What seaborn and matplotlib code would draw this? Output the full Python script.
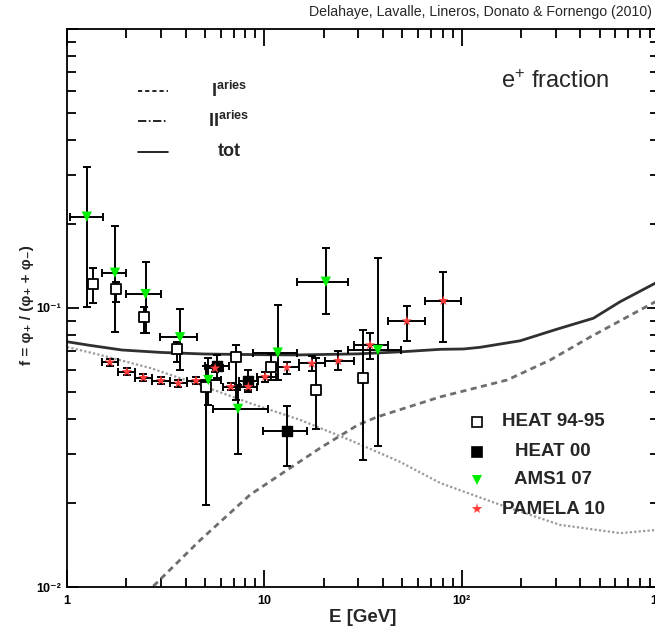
import matplotlib
matplotlib.use("Agg")
import matplotlib.pyplot as plt
from matplotlib.lines import Line2D
import numpy as np
import pandas as pd
import seaborn as sns

# ---------------- data ----------------
# model curves
E_tot = [1, 1.3, 1.9, 3, 5, 10, 15, 30, 50, 78, 102, 124, 198, 303, 465, 635, 955, 1000]
f_tot = [0.0757, 0.0735, 0.0707, 0.0693, 0.0684, 0.068, 0.0679, 0.0685, 0.0697, 0.0711,
         0.0713, 0.0723, 0.0763, 0.0839, 0.0919, 0.1053, 0.1226, 0.1245]
E_I = [2.5, 2.79, 4.72, 8.46, 19.2, 29.8, 37.3, 77.7, 170, 281, 448, 802, 955, 1000]
f_I = [0.0095, 0.0102, 0.0147, 0.0214, 0.0315, 0.0381, 0.0407, 0.048, 0.0552, 0.0651,
       0.0787, 0.0984, 0.1051, 0.107]
E_II = [1, 1.47, 2.63, 4.72, 8.46, 15.2, 27.2, 48.7, 77.7, 157, 315, 635, 955, 1000]
f_II = [0.0725, 0.0679, 0.061, 0.053, 0.0456, 0.0397, 0.0336, 0.0281, 0.0236, 0.0197,
        0.0167, 0.0156, 0.016, 0.0161]

# HEAT 94-95
heat_E = [1.36, 1.77, 2.47, 3.6, 5.06, 7.19, 10.8, 18.2, 31.8]
heat_f = [0.1216, 0.1167, 0.0931, 0.0711, 0.0522, 0.0669, 0.0616, 0.0508, 0.056]
heat_flo = [0.1045, 0.1053, 0.0816, 0.0641, 0.0197, 0.0468, 0.0552, 0.0367, 0.0285]
heat_fhi = [0.1388, 0.1243, 0.1011, 0.0757, 0.062, 0.0737, 0.0684, 0.066, 0.0834]

# HEAT 00
heat00_E = [5.76, 8.3, 13.03]
heat00_f = [0.0619, 0.0549, 0.0362]
heat00_Elo = [5.0, 7.4, 9.85]
heat00_Ehi = [6.6, 9.3, 16.46]
heat00_flo = [0.056, 0.05, 0.0271]
heat00_fhi = [0.068, 0.06, 0.0445]

# AMS1 07
ams_E = [1.26, 1.75, 2.5, 3.74, 5.2, 7.36, 11.7, 20.5, 37.6]
ams_f = [0.2125, 0.1338, 0.1122, 0.0785, 0.0552, 0.0435, 0.0692, 0.1242, 0.0707]
ams_Elo = [1.03, 1.5, 2.0, 2.96, 4.5, 5.5, 8.77, 14.7, 26.7]
ams_Ehi = [1.52, 2.0, 3.0, 4.55, 6.0, 10.4, 14.6, 26.5, 49.1]
ams_flo = [0.101, 0.0822, 0.0816, 0.060, 0.045, 0.030, 0.055, 0.0949, 0.032]
ams_fhi = [0.319, 0.1968, 0.1465, 0.0989, 0.066, 0.053, 0.1025, 0.1636, 0.1507]

# PAMELA 10
pam_E = [1.65, 2.01, 2.44, 2.99, 3.67, 4.51, 5.63, 6.76, 8.30, 10.1, 13.0, 17.4, 23.7,
         34.3, 52.7, 80.8]
pam_f = [0.0639, 0.0591, 0.0563, 0.0549, 0.0537, 0.0549, 0.0608, 0.0522, 0.0522, 0.0567,
         0.0612, 0.0633, 0.0647, 0.0737, 0.0898, 0.1062]
pam_edges = [1.5, 1.82, 2.21, 2.70, 3.31, 4.06, 5.04, 6.18, 7.49, 9.13, 11.5, 15.0, 20.3,
             28.5, 42.4, 65.3, 99.3]
pam_flo = [0.0621, 0.0574, 0.0547, 0.0533, 0.0522, 0.0533, 0.0591, 0.0507, 0.0507, 0.0544,
           0.0582, 0.0597, 0.0598, 0.0655, 0.0763, 0.0753]
pam_fhi = [0.0658, 0.0608, 0.0579, 0.0565, 0.0552, 0.0565, 0.0626, 0.0537, 0.0537, 0.0591,
           0.0643, 0.0671, 0.0700, 0.0811, 0.1017, 0.1343]

xticks = [1, 10, 100, 1000]
xticklabels = ["1", "10", "10²", "10³"]
yticks = [0.01, 0.1, 1]
yticklabels = ["10⁻²", "10⁻¹", ""]

# ---------------- style ----------------
sns.set_style("ticks")
plt.rcParams['font.family'] = ['Liberation Sans', 'DejaVu Sans']
plt.rcParams['mathtext.fontset'] = 'custom'
plt.rcParams['mathtext.rm'] = 'Liberation Sans'
plt.rcParams['mathtext.bf'] = 'Liberation Sans:bold'
plt.rcParams['mathtext.it'] = 'Liberation Sans:italic'

W, H = 655, 633
fig = plt.figure(figsize=(W / 100, H / 100), dpi=100)
fig.patch.set_facecolor('white')
ax = fig.add_axes([67 / W, 1 - 587 / H, 592 / W, 558 / H])
ax.set_xscale('log')
ax.set_yscale('log')

# curves
df_tot = pd.DataFrame({'E': E_tot, 'f': f_tot})
df_I = pd.DataFrame({'E': E_I, 'f': f_I})
df_II = pd.DataFrame({'E': E_II, 'f': f_II})
sns.lineplot(data=df_II, x='E', y='f', ax=ax, color='#9a9a9a', linewidth=1.6,
             linestyle=(0, (1, 1)), estimator=None, sort=False, zorder=2)
sns.lineplot(data=df_I, x='E', y='f', ax=ax, color='#6e6e6e', linewidth=2.0,
             linestyle=(0, (2.2, 1.6)), estimator=None, sort=False, zorder=2)
sns.lineplot(data=df_tot, x='E', y='f', ax=ax, color='#303030', linewidth=2.0,
             estimator=None, sort=False, zorder=2)

eb = dict(fmt='none', ecolor='black', elinewidth=1.4, capsize=3, capthick=1.4, zorder=3)

# HEAT 94-95
hE = np.array(heat_E); hf = np.array(heat_f)
ax.errorbar(hE, hf, yerr=[hf - np.array(heat_flo), np.array(heat_fhi) - hf], **eb)
# HEAT 00
h0E = np.array(heat00_E); h0f = np.array(heat00_f)
ax.errorbar(h0E, h0f, xerr=[h0E - np.array(heat00_Elo), np.array(heat00_Ehi) - h0E],
            yerr=[h0f - np.array(heat00_flo), np.array(heat00_fhi) - h0f], **eb)
# AMS
aE = np.array(ams_E); af = np.array(ams_f)
ax.errorbar(aE, af, xerr=[aE - np.array(ams_Elo), np.array(ams_Ehi) - aE],
            yerr=[af - np.array(ams_flo), np.array(ams_fhi) - af], **eb)
# PAMELA
pE = np.array(pam_E); pf = np.array(pam_f); edges = np.array(pam_edges)
ax.errorbar(pE, pf, xerr=[pE - edges[:-1], edges[1:] - pE],
            yerr=[pf - np.array(pam_flo), np.array(pam_fhi) - pf], **eb)

sns.scatterplot(x=heat_E, y=heat_f, ax=ax, marker='s', s=42, color='white',
                edgecolor='black', linewidth=1.3, zorder=5)
sns.scatterplot(x=heat00_E, y=heat00_f, ax=ax, marker='s', s=42, color='black',
                edgecolor='black', linewidth=1.0, zorder=5)
sns.scatterplot(x=ams_E, y=ams_f, ax=ax, marker='v', s=55, color='#00ee00',
                edgecolor='none', linewidth=0, zorder=6)
sns.scatterplot(x=pam_E, y=pam_f, ax=ax, marker='*', s=60, color='#ff3b3b',
                edgecolor='none', linewidth=0, zorder=6)

# axes
ax.set_xlim(1, 1000)
ax.set_ylim(0.01, 1.0)
ax.set_xticks(xticks)
ax.set_xticklabels(xticklabels)
ax.set_yticks(yticks)
ax.set_yticklabels(yticklabels)
ax.xaxis.set_minor_locator(matplotlib.ticker.LogLocator(base=10, subs=np.arange(2, 10)))
ax.yaxis.set_minor_locator(matplotlib.ticker.LogLocator(base=10, subs=np.arange(2, 10)))
ax.xaxis.set_minor_formatter(matplotlib.ticker.NullFormatter())
ax.yaxis.set_minor_formatter(matplotlib.ticker.NullFormatter())
ax.tick_params(which='both', direction='in', top=True, right=True, colors='black',
               width=1.3)
ax.tick_params(axis='x', which='major', length=12.5, pad=6)
ax.tick_params(axis='x', which='minor', length=6.5)
ax.tick_params(axis='y', which='major', length=8.5, pad=4)
ax.tick_params(axis='y', which='minor', length=6.5)
for lab in ax.get_xticklabels() + ax.get_yticklabels():
    lab.set_fontsize(9)
    lab.set_fontweight('bold')
for sp in ax.spines.values():
    sp.set_linewidth(1.3)
    sp.set_color('black')
ax.set_xlabel('')
ax.set_ylabel('')


def fx(px):
    return px / W


def fy(py):
    return 1 - py / H


fig.text(fx(363), fy(618), 'E [GeV]', ha='center', va='center', fontsize=13.5,
         fontweight='bold')
fig.text(fx(27), fy(305), 'f = φ₊ / (φ₊ + φ₋)', ha='center', va='center', rotation=90,
         fontsize=11, fontweight='bold')
fig.text(fx(652), fy(12), 'Delahaye, Lavalle, Lineros, Donato & Fornengo (2010)',
         ha='right', va='center', fontsize=10.2)
fig.text(fx(555), fy(82), 'e$^{+}$ fraction', ha='center', va='center', fontsize=17)

# top-left line legend
for ypx, ls, lab in [(91, (0, (2.5, 1.8)), r'$\mathbf{I^{aries}}$'),
                     (121, (0, (5, 1.5, 1, 1.5)), r'$\mathbf{II^{aries}}$'),
                     (152, '-', 'tot')]:
    fig.add_artist(Line2D([fx(138), fx(168)], [fy(ypx), fy(ypx)], color='black',
                          linewidth=1.2, linestyle=ls))
    fig.text(fx(229), fy(ypx), lab, ha='center', va='center', fontsize=13,
             fontweight='bold')

# right marker legend
leg = [(422, 's', 'white', 'black', 'HEAT 94-95'),
       (452, 's', 'black', 'black', 'HEAT 00'),
       (480, 'v', '#00ee00', 'none', 'AMS1 07'),
       (509, '*', '#ff3b3b', 'none', 'PAMELA 10')]
for ypx, m, fc, ec, lab in leg:
    fig.add_artist(Line2D([fx(477)], [fy(ypx)], marker=m, markersize=7.5 if m != '*' else 8,
                          markerfacecolor=fc, markeredgecolor=ec, markeredgewidth=1.2,
                          linestyle='none'))
    fig.text(fx(553), fy(ypx), lab, ha='center', va='center', fontsize=13.5,
             fontweight='bold')

fig.savefig('out.png', dpi=100)
